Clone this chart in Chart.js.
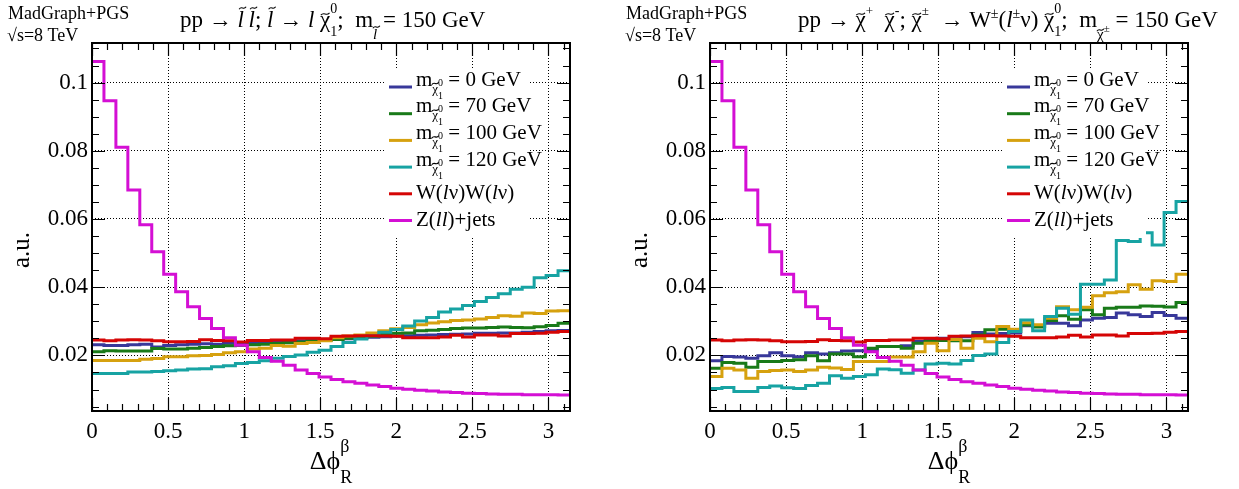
<!DOCTYPE html>
<html>
<head>
<meta charset="utf-8">
<script src="https://cdn.jsdelivr.net/npm/chart.js@4.4.1/dist/chart.umd.min.js"></script>
<style>
  html, body { margin: 0; padding: 0; background: #fff; }
  #wrap { position: relative; width: 1239px; height: 489px; overflow: hidden; }
  canvas { position: absolute; top: 0; }
  #left { left: 0; }
  #right { left: 618px; }
</style>
</head>
<body>
<div id="wrap">
  <canvas id="left" width="620" height="489"></canvas>
  <canvas id="right" width="621" height="489"></canvas>
</div>
<script>
const SERIF = '"Liberation Serif", "Times New Roman", serif';

// binning: 40 bins over [0, pi]
const NBINS = 40;
const binEdges = Array.from({ length: NBINS + 1 }, (_, i) => i * Math.PI / NBINS);
const xTicks = [0, 0.5, 1, 1.5, 2, 2.5, 3];
const yTicks = [0.02, 0.04, 0.06, 0.08, 0.1];
const Y_MIN = 0.0037, Y_MAX = 0.1116;
const massLabels = ['0', '70', '100', '120'];

// backgrounds (same in both panels)
const zjets = [
  0.1062, 0.0947, 0.0810, 0.0685, 0.0583, 0.0504, 0.0438, 0.0387, 0.0343, 0.0308,
  0.0279, 0.0252, 0.0230, 0.0211, 0.0194, 0.0183, 0.0171, 0.0157, 0.0147, 0.0137,
  0.0129, 0.0123, 0.0118, 0.0113, 0.0109, 0.0104, 0.0101, 0.0098, 0.0096, 0.0093,
  0.0091, 0.0089, 0.0088, 0.0087, 0.0086, 0.0086, 0.0085, 0.0085, 0.0085, 0.0084
];
const ww = [
  0.0245, 0.0243, 0.0245, 0.0246, 0.0245, 0.0243, 0.0240, 0.0240, 0.0241, 0.0246,
  0.0244, 0.0243, 0.0239, 0.0244, 0.0244, 0.0245, 0.0245, 0.0250, 0.0250, 0.0249,
  0.0256, 0.0257, 0.0258, 0.0258, 0.0257, 0.0256, 0.0252, 0.0252, 0.0252, 0.0254,
  0.0259, 0.0254, 0.0260, 0.0260, 0.0257, 0.0264, 0.0264, 0.0265, 0.0268, 0.0270
];

// left: slepton pairs
const slep0 = [
  0.0231, 0.0229, 0.0229, 0.0231, 0.0233, 0.0225, 0.0229, 0.0231, 0.0233, 0.0234,
  0.0233, 0.0236, 0.0234, 0.0237, 0.0238, 0.0239, 0.0240, 0.0243, 0.0244, 0.0246,
  0.0247, 0.0249, 0.0251, 0.0253, 0.0255, 0.0257, 0.0258, 0.0259, 0.0260, 0.0261,
  0.0262, 0.0263, 0.0265, 0.0265, 0.0266, 0.0266, 0.0268, 0.0270, 0.0272, 0.0273
];
const slep70 = [
  0.0211, 0.0214, 0.0213, 0.0213, 0.0213, 0.0220, 0.0219, 0.0219, 0.0221, 0.0223,
  0.0226, 0.0228, 0.0229, 0.0231, 0.0233, 0.0235, 0.0237, 0.0239, 0.0242, 0.0244,
  0.0247, 0.0250, 0.0253, 0.0256, 0.0262, 0.0265, 0.0266, 0.0272, 0.0274, 0.0276,
  0.0279, 0.0280, 0.0280, 0.0282, 0.0283, 0.0282, 0.0281, 0.0284, 0.0288, 0.0294
];
const slep100 = [
  0.0185, 0.0185, 0.0185, 0.0185, 0.0189, 0.0191, 0.0196, 0.0196, 0.0199, 0.0200,
  0.0203, 0.0208, 0.0211, 0.0219, 0.0221, 0.0229, 0.0227, 0.0235, 0.0238, 0.0243,
  0.0252, 0.0257, 0.0260, 0.0266, 0.0272, 0.0278, 0.0282, 0.0290, 0.0295, 0.0299,
  0.0302, 0.0304, 0.0307, 0.0311, 0.0316, 0.0315, 0.0324, 0.0323, 0.0330, 0.0331
];
const slep120 = [
  0.0147, 0.0147, 0.0147, 0.0151, 0.0151, 0.0153, 0.0155, 0.0157, 0.0160, 0.0161,
  0.0167, 0.0170, 0.0176, 0.0179, 0.0184, 0.0192, 0.0197, 0.0201, 0.0209, 0.0215,
  0.0226, 0.0238, 0.0248, 0.0258, 0.0268, 0.0276, 0.0286, 0.0301, 0.0311, 0.0327,
  0.0336, 0.0346, 0.0358, 0.0370, 0.0381, 0.0394, 0.0400, 0.0428, 0.0434, 0.0448
];

// right: chargino pairs
const chi0 = [
  0.0184, 0.0197, 0.0195, 0.0192, 0.0199, 0.0208, 0.0199, 0.0196, 0.0208, 0.0204,
  0.0208, 0.0213, 0.0214, 0.0216, 0.0226, 0.0226, 0.0228, 0.0241, 0.0244, 0.0250,
  0.0249, 0.0255, 0.0267, 0.0263, 0.0264, 0.0266, 0.0287, 0.0285, 0.0294, 0.0294,
  0.0287, 0.0304, 0.0309, 0.0311, 0.0324, 0.0319, 0.0314, 0.0326, 0.0317, 0.0309
];
const chi70 = [
  0.0162, 0.0179, 0.0177, 0.0165, 0.0182, 0.0182, 0.0185, 0.0187, 0.0199, 0.0184,
  0.0204, 0.0204, 0.0196, 0.0221, 0.0226, 0.0226, 0.0221, 0.0236, 0.0241, 0.0244,
  0.0243, 0.0243, 0.0260, 0.0275, 0.0277, 0.0270, 0.0289, 0.0283, 0.0302, 0.0316,
  0.0306, 0.0334, 0.0319, 0.0338, 0.0341, 0.0341, 0.0345, 0.0344, 0.0342, 0.0355
];
const chi100 = [
  0.0138, 0.0162, 0.0157, 0.0133, 0.0153, 0.0156, 0.0157, 0.0153, 0.0157, 0.0165,
  0.0163, 0.0159, 0.0182, 0.0182, 0.0182, 0.0195, 0.0195, 0.0211, 0.0236, 0.0214,
  0.0247, 0.0221, 0.0250, 0.0240, 0.0285, 0.0277, 0.0296, 0.0290, 0.0309, 0.0343,
  0.0334, 0.0341, 0.0375, 0.0384, 0.0387, 0.0407, 0.0394, 0.0419, 0.0417, 0.0438
];
const chi120 = [
  0.0103, 0.0106, 0.0094, 0.0094, 0.0106, 0.0110, 0.0105, 0.0103, 0.0112, 0.0118,
  0.0140, 0.0133, 0.0138, 0.0143, 0.0160, 0.0158, 0.0148, 0.0157, 0.0175, 0.0177,
  0.0175, 0.0185, 0.0200, 0.0204, 0.0238, 0.0270, 0.0304, 0.0272, 0.0314, 0.0338,
  0.0321, 0.0409, 0.0409, 0.0421, 0.0537, 0.0534, 0.0560, 0.0524, 0.0619, 0.0651
];

const colors = {
  blue: '#38389a', green: '#197a19', gold: '#d6a10f',
  cyan: '#17a3a3', red: '#d50505', magenta: '#d40fd4'
};

function histPoints(values) {
  const pts = values.map((v, i) => ({ x: binEdges[i], y: v }));
  pts.push({ x: binEdges[NBINS], y: values[NBINS - 1] });
  return pts;
}

function tilde(ctx, x, y, w) {
  const span = Math.max(w * 0.85, 7);
  const L = x + (w - span) / 2, R = L + span;
  ctx.save();
  ctx.lineWidth = 1.1;
  ctx.beginPath();
  ctx.moveTo(L, y + 1.2);
  ctx.bezierCurveTo(L + span * 0.35, y - 2.6, R - span * 0.35, y + 2.6, R, y - 1.2);
  ctx.stroke();
  ctx.restore();
}

// parts: {t, s: size, it: italic, dy, tl: tilde height, na: no advance}
function drawRich(ctx, x, y, parts, base, align) {
  const fontOf = p => (p.it ? 'italic ' : '') + (p.s || base) + 'px ' + SERIF;
  let w = 0;
  for (const p of parts) {
    ctx.font = fontOf(p);
    if (!p.na) w += ctx.measureText(p.t).width;
  }
  let cx = align === 'center' ? x - w / 2 : x;
  ctx.textAlign = 'left';
  ctx.textBaseline = 'alphabetic';
  for (const p of parts) {
    ctx.font = fontOf(p);
    const pw = ctx.measureText(p.t).width;
    const by = y + (p.dy || 0);
    ctx.fillText(p.t, cx, by);
    if (p.tl) tilde(ctx, cx + (p.it ? pw * 0.3 : 0), by - p.tl, pw);
    if (!p.na) cx += pw;
  }
}

const chiSub = [
  { t: 'χ', s: 13, dy: 7, tl: 9 },
  { t: '0', s: 10, dy: 0, na: 1 },
  { t: '1', s: 10, dy: 13 }
];
const legendRows = [
  ...massLabels.map((m, k) => ({
    color: [colors.blue, colors.green, colors.gold, colors.cyan][k],
    mass: true,
    parts: [{ t: 'm' }, ...chiSub, { t: ' = ' + m + ' GeV' }]
  })),
  { color: colors.red, parts: [{ t: 'W(' }, { t: 'l', it: 1 }, { t: 'ν)W(' }, { t: 'l', it: 1 }, { t: 'ν)' }] },
  { color: colors.magenta, parts: [{ t: 'Z(' }, { t: 'll', it: 1 }, { t: ')+jets' }] }
];

const titleLeft = [
  { t: 'pp → ' }, { t: 'l', it: 1, tl: 19 }, { t: '\u2009' }, { t: 'l', it: 1, tl: 19 },
  { t: '; ' }, { t: 'l', it: 1, tl: 19 }, { t: ' → ' }, { t: 'l', it: 1 }, { t: ' ' },
  { t: 'χ', tl: 13 }, { t: '0', s: 14, dy: -14, na: 1 }, { t: '1', s: 14, dy: 9 },
  { t: ';  m' }, { t: 'l', it: 1, s: 15, dy: 12, tl: 12 }, { t: ' = 150 GeV' }
];
const titleRight = [
  { t: 'pp → ' }, { t: 'χ', tl: 13 }, { t: '+', s: 13, dy: -12 }, { t: '  ' },
  { t: 'χ', tl: 13 }, { t: '-', s: 14, dy: -12 }, { t: '; ' },
  { t: 'χ', tl: 13 }, { t: '±', s: 13, dy: -12 }, { t: '  → W' }, { t: '±', s: 14, dy: -9 },
  { t: '(' }, { t: 'l', it: 1 }, { t: '±', s: 14, dy: -9 }, { t: 'ν) ' },
  { t: 'χ', tl: 13 }, { t: '0', s: 14, dy: -14, na: 1 }, { t: '1', s: 14, dy: 9 },
  { t: ';  m' }, { t: 'χ', s: 15, dy: 12, tl: 9 }, { t: '±', s: 11, dy: 5 }, { t: ' = 150 GeV' }
];
const xTitle = [{ t: 'Δϕ', s: 26 }, { t: 'β', s: 18, dy: -17, na: 1 }, { t: 'R', s: 18, dy: 14 }];

function makeDecor(title) {
  return {
    id: 'hepDecor',
    afterDatasetsDraw(chart) {
      const ctx = chart.ctx, a = chart.chartArea;
      const xs = chart.scales.x, ys = chart.scales.y;
      ctx.save();

      // legend
      ctx.fillStyle = '#fff';
      ctx.fillRect(a.left + 292, a.top + 27, 144, 168);
      legendRows.forEach((row, k) => {
        const ly = a.top + 44 + 26.7 * k;
        ctx.strokeStyle = row.color;
        ctx.lineWidth = 3;
        ctx.beginPath();
        ctx.moveTo(a.left + 297, ly);
        ctx.lineTo(a.left + 320, ly);
        ctx.stroke();
        ctx.fillStyle = '#000';
        ctx.strokeStyle = '#000';
        drawRich(ctx, a.left + 324, ly + (row.mass ? -1.5 : 5.5), row.parts, 21);
      });

      // frame and inner ticks
      ctx.strokeStyle = '#000';
      ctx.lineWidth = 2;
      ctx.strokeRect(a.left, a.top, a.right - a.left, a.bottom - a.top);
      ctx.lineWidth = 1.2;
      ctx.beginPath();
      for (let k = 0; k <= 31; k++) {
        const px = Math.round(xs.getPixelForValue(k / 10)) + 0.5;
        const len = k % 5 === 0 ? 13 : 7;
        ctx.moveTo(px, a.bottom); ctx.lineTo(px, a.bottom - len);
        ctx.moveTo(px, a.top); ctx.lineTo(px, a.top + len);
      }
      for (let k = 1; k <= 22; k++) {
        const v = k * 0.005;
        if (v < ys.min || v > ys.max) continue;
        const py = Math.round(ys.getPixelForValue(v)) + 0.5;
        const len = k % 4 === 0 ? 13 : 7;
        ctx.moveTo(a.left, py); ctx.lineTo(a.left + len, py);
        ctx.moveTo(a.right, py); ctx.lineTo(a.right - len, py);
      }
      ctx.stroke();

      // texts
      ctx.fillStyle = '#000';
      ctx.strokeStyle = '#000';
      ctx.textAlign = 'left';
      ctx.font = '18px ' + SERIF;
      ctx.fillText('MadGraph+PGS', 8, 19);
      ctx.fillText('√s=8 TeV', 7, 41);
      drawRich(ctx, 180, 27, title, 23);
      drawRich(ctx, (a.left + a.right) / 2, 469, xTitle, 26, 'center');

      ctx.save();
      ctx.translate(a.left - 70, 250);
      ctx.rotate(-Math.PI / 2);
      ctx.font = '25px ' + SERIF;
      ctx.textAlign = 'center';
      ctx.textBaseline = 'middle';
      ctx.fillText('a.u.', 0, 0);
      ctx.restore();

      ctx.restore();
    }
  };
}

function makePanel(id, signals, title, rightPad) {
  const sigColors = [colors.blue, colors.green, colors.gold, colors.cyan];
  const series = [
    { label: 'Z(ll)+jets', data: zjets, color: colors.magenta },
    { label: 'W(lv)W(lv)', data: ww, color: colors.red },
    ...signals.map((s, k) => ({ label: 'm = ' + massLabels[k] + ' GeV', data: s, color: sigColors[k] })).reverse()
  ];
  const axisCommon = {
    type: 'linear',
    grid: { color: '#000', lineWidth: 1, drawTicks: false },
    border: { display: false, dash: [1, 2] },
    ticks: { color: '#000', font: { family: SERIF, size: 23 }, autoSkip: false, maxRotation: 0 }
  };
  return new Chart(document.getElementById(id), {
    type: 'line',
    data: {
      datasets: series.map(s => ({
        label: s.label,
        data: histPoints(s.data),
        borderColor: s.color,
        backgroundColor: s.color,
        borderWidth: 3,
        stepped: 'before',
        pointRadius: 0,
        fill: false
      }))
    },
    options: {
      responsive: false,
      animation: false,
      devicePixelRatio: 1,
      layout: { padding: { left: 0, top: 43, right: rightPad, bottom: 0 } },
      plugins: { legend: { display: false }, tooltip: { enabled: false } },
      scales: {
        x: {
          ...axisCommon,
          min: 0, max: Math.PI,
          afterBuildTicks: s => { s.ticks = xTicks.map(v => ({ value: v })); },
          afterFit: s => { s.height = 78; },
          ticks: { ...axisCommon.ticks, padding: 7, callback: v => String(+v.toFixed(1)) }
        },
        y: {
          ...axisCommon,
          min: Y_MIN, max: Y_MAX,
          afterBuildTicks: s => { s.ticks = yTicks.map(v => ({ value: v })); },
          afterFit: s => { s.width = 92; },
          ticks: { ...axisCommon.ticks, padding: 4, callback: v => String(+v.toFixed(2)) }
        }
      }
    },
    plugins: [makeDecor(title)]
  });
}

makePanel('left', [slep0, slep70, slep100, slep120], titleLeft, 50);
makePanel('right', [chi0, chi70, chi100, chi120], titleRight, 51);
</script>
</body>
</html>
